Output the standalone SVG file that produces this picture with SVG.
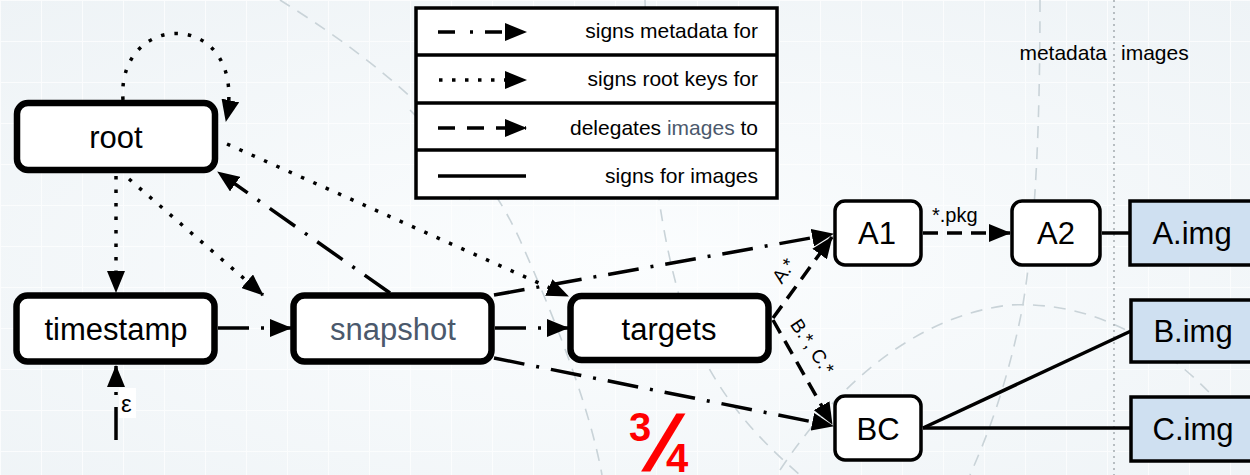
<svg xmlns="http://www.w3.org/2000/svg" width="1250" height="475" viewBox="0 0 1250 475">
  <style>
    .box { fill: #ffffff; stroke: #000; }
    .big { stroke-width: 6.5; }
    .small { stroke-width: 3.5; }
    .img { fill: #cfe0f1; stroke: #000; stroke-width: 3.5; }
    .lbl { font-family: "Liberation Sans", Arial, sans-serif; font-size: 31px; fill: #000; text-anchor: middle; }
    .slate { fill: #4b596c; }
    .leg { font-family: "Liberation Sans", Arial, sans-serif; font-size: 21px; fill: #000; text-anchor: end; }
    .note { font-family: "Liberation Sans", Arial, sans-serif; fill: #000; }
    .edge { fill: none; stroke: #000; stroke-width: 3.5; }
    .dashdot { stroke-dasharray: 31 12 3 12; }
    .dotted { stroke-dasharray: 3.5 10; }
    .dashed { stroke-dasharray: 15 9; }
    .bgdash { fill: none; stroke: #c9d3d8; stroke-width: 1.6; stroke-dasharray: 12 9; }
  </style>
  <defs>
    <marker id="arrow" viewBox="0 0 22 18" refX="21" refY="9" markerWidth="22" markerHeight="18" markerUnits="userSpaceOnUse" orient="auto">
      <path d="M0,0 L22,9 L0,18 z" fill="#000"/>
    </marker>
    <pattern id="grid" width="41" height="41" patternUnits="userSpaceOnUse">
      <path d="M41,0 L0,0 L0,41" fill="none" stroke="#ffffff" stroke-width="2" opacity="0.7"/>
    </pattern>
    <radialGradient id="glow" cx="0.5" cy="0.55" r="0.75">
      <stop offset="0" stop-color="#fbfdfe"/>
      <stop offset="1" stop-color="#eef3f6"/>
    </radialGradient>
  </defs>

  <!-- backdrop -->
  <rect width="1250" height="475" fill="url(#glow)"/>
  <rect width="1250" height="475" fill="url(#grid)"/>
  <g id="backdrop-curves">
    <path class="bgdash" d="M280,0 C360,50 470,130 520,240 C560,330 590,410 602,475"/>
    <path class="bgdash" d="M645,0 C648,120 655,230 690,330 C720,400 760,440 800,475"/>
    <path class="bgdash" d="M1040,0 C1040,120 1036,230 1022,310 C1008,380 990,430 970,475"/>
    <path class="bgdash" d="M780,470 C840,380 920,315 1010,305 C1110,300 1190,360 1250,440"/>
    <path class="bgdash" d="M410,110 C440,140 460,170 470,200"/>
    <line x1="1114" y1="0" x2="1114" y2="475" stroke="#a9b0b4" stroke-width="1.6" stroke-dasharray="2 4"/>
  </g>

  <!-- column headings -->
  <text class="note" x="1107" y="60" text-anchor="end" style="font-size:21px">metadata</text>
  <text class="note" x="1121" y="60" style="font-size:21px">images</text>

  <!-- legend -->
  <g id="legend">
    <rect x="416" y="8" width="361" height="190" fill="#ffffff" stroke="#000" stroke-width="3.5"/>
    <line x1="416" y1="55" x2="777" y2="55" stroke="#000" stroke-width="3.5"/>
    <line x1="416" y1="103" x2="777" y2="103" stroke="#000" stroke-width="3.5"/>
    <line x1="416" y1="150" x2="777" y2="150" stroke="#000" stroke-width="3.5"/>
    <line class="edge" x1="438" y1="32" x2="526" y2="32" stroke-dasharray="17 15 3 12" marker-end="url(#arrow)"/>
    <line class="edge" x1="439" y1="80" x2="526" y2="80" stroke-dasharray="3.5 9.5" marker-end="url(#arrow)"/>
    <line class="edge" x1="438" y1="128" x2="526" y2="128" stroke-dasharray="17 12" marker-end="url(#arrow)"/>
    <line class="edge" x1="438" y1="176" x2="526" y2="176"/>
    <text class="leg" x="758" y="38">signs metadata for</text>
    <text class="leg" x="758" y="86">signs root keys for</text>
    <text class="leg" x="758" y="135">delegates <tspan class="slate">images</tspan> to</text>
    <text class="leg" x="758" y="183">signs for images</text>
  </g>

  <!-- connectors -->
  <g id="connectors">
    <path class="edge dotted" d="M123,100 C116,8 250,8 226,121" marker-end="url(#arrow)"/>
    <line class="edge dotted" x1="116" y1="176" x2="116" y2="292" marker-end="url(#arrow)"/>
    <line class="edge dotted" x1="129" y1="179" x2="263" y2="295" marker-end="url(#arrow)"/>
    <line class="edge dotted" x1="227" y1="144" x2="568" y2="296" marker-end="url(#arrow)"/>
    <line class="edge dashdot" x1="390" y1="293" x2="218" y2="172" marker-end="url(#arrow)"/>
    <line class="edge dashdot" x1="218" y1="328" x2="291" y2="328" marker-end="url(#arrow)"/>
    <line class="edge dashdot" x1="495" y1="328" x2="568" y2="328" marker-end="url(#arrow)"/>
    <line class="edge dashdot" x1="494" y1="295" x2="833" y2="234" marker-end="url(#arrow)"/>
    <line class="edge dashdot" x1="494" y1="358" x2="833" y2="426" marker-end="url(#arrow)"/>
    <line class="edge dashed" x1="773" y1="318" x2="832" y2="237" marker-end="url(#arrow)"/>
    <line class="edge dashed" x1="773" y1="320" x2="832" y2="424" marker-end="url(#arrow)"/>
    <line class="edge dashed" x1="923" y1="233" x2="1010" y2="233" marker-end="url(#arrow)"/>
    <line class="edge" x1="1102" y1="233" x2="1130" y2="233"/>
    <line class="edge" x1="923" y1="428" x2="1131" y2="331"/>
    <line class="edge" x1="923" y1="428" x2="1131" y2="428"/>
    <line class="edge" x1="116" y1="440" x2="116" y2="366" stroke-dasharray="33 12 3 12" marker-end="url(#arrow)"/>
    <rect x="119" y="388" width="17" height="30" fill="#ffffff"/>
    <text class="note" x="121" y="412" style="font-size:24px">ε</text>
    <text class="note" x="932" y="222" style="font-size:20px">*.pkg</text>
    <text class="note" x="784" y="277" text-anchor="middle" style="font-size:19px" transform="rotate(-55 784 271)">A.*</text>
    <text class="note" x="812" y="353" text-anchor="middle" style="font-size:19px" transform="rotate(56 812 347)">B.*, C.*</text>
  </g>

  <!-- nodes -->
  <g id="node-root">
    <rect class="box big" x="17" y="103" width="198" height="67" rx="11"/>
    <text class="lbl" x="116" y="148">root</text>
  </g>
  <g id="node-timestamp">
    <rect class="box big" x="16.5" y="295.5" width="198" height="66" rx="11"/>
    <text class="lbl" x="116" y="340">timestamp</text>
  </g>
  <g id="node-snapshot">
    <rect class="box big" x="293.5" y="295.5" width="198" height="66" rx="11"/>
    <text class="lbl slate" x="393" y="340">snapshot</text>
  </g>
  <g id="node-targets">
    <rect class="box big" x="570.5" y="296" width="198" height="64" rx="11"/>
    <text class="lbl" x="669" y="340">targets</text>
  </g>
  <g id="node-A1">
    <rect class="box small" x="835" y="201" width="86" height="64" rx="10"/>
    <text class="lbl" x="877" y="244">A1</text>
  </g>
  <g id="node-A2">
    <rect class="box small" x="1012" y="201" width="88" height="64" rx="10"/>
    <text class="lbl" x="1056" y="244">A2</text>
  </g>
  <g id="node-BC">
    <rect class="box small" x="835" y="396" width="86" height="64" rx="10"/>
    <text class="lbl" x="878" y="440">BC</text>
  </g>
  <g id="node-A-img">
    <rect class="img" x="1130" y="201" width="140" height="64"/>
    <text class="lbl" x="1192" y="244">A.img</text>
  </g>
  <g id="node-B-img">
    <rect class="img" x="1131" y="300" width="140" height="62"/>
    <text class="lbl" x="1193" y="342">B.img</text>
  </g>
  <g id="node-C-img">
    <rect class="img" x="1131" y="397" width="140" height="64"/>
    <text class="lbl" x="1193" y="440">C.img</text>
  </g>

  <!-- slide counter -->
  <g id="counter" font-family="'Liberation Sans', Arial, sans-serif" font-weight="bold" fill="#ff0000">
    <text x="629" y="441" font-size="40">3</text>
    <text transform="translate(641 470) skewX(-22.6)" font-size="78">/</text>
    <text x="666" y="472" font-size="40">4</text>
  </g>
</svg>
